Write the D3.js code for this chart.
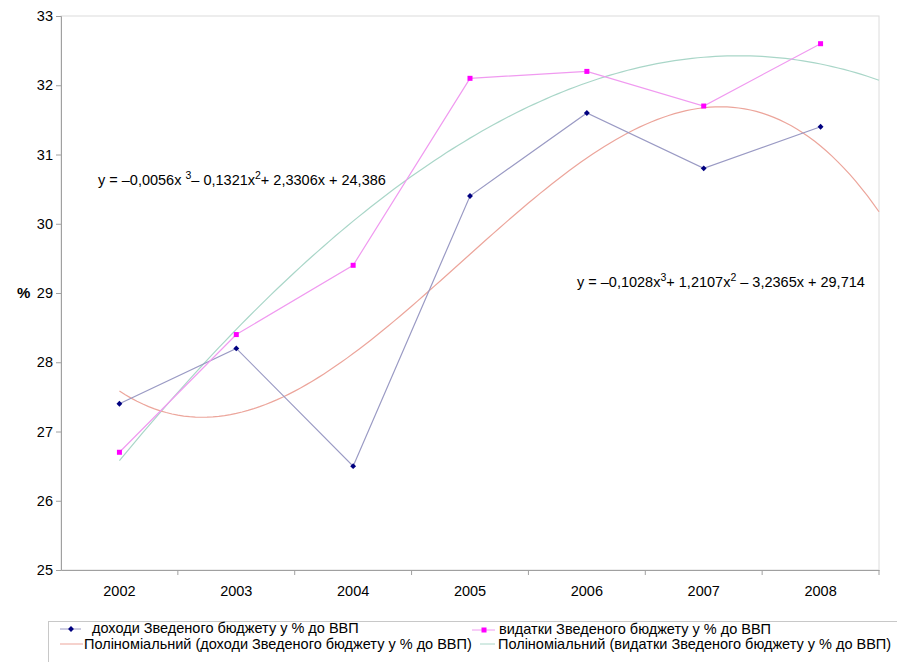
<!DOCTYPE html>
<html>
<head>
<meta charset="utf-8">
<script src="https://cdn.jsdelivr.net/npm/d3@7"></script>
<style>
  body { margin: 0; background: #fff; }
  svg { display: block; font-family: "Liberation Sans", Arial, sans-serif; }
</style>
</head>
<body>
<div id="chart"></div>
<script>
const years = ["2002", "2003", "2004", "2005", "2006", "2007", "2008"];
const revenues = [27.4, 28.2, 26.5, 30.4, 31.6, 30.8, 31.4];
const expenses = [26.7, 28.4, 29.4, 32.1, 32.2, 31.7, 32.6];
// cubic trend coefficients [a3, a2, a1, a0], as printed on the chart
const revenuesTrend = [-0.1028, 1.2107, -3.2365, 29.714];
const expensesTrend = [-0.0056, -0.1321, 2.3306, 24.386];
const yTicks = [25, 26, 27, 28, 29, 30, 31, 32, 33];

const W = 897, H = 662;
const m = { left: 61, right: 18, top: 16, bottom: 92 };

const svg = d3.select("#chart").append("svg")
    .attr("width", W)
    .attr("height", H);

const x = d3.scaleBand().domain(years).range([m.left, W - m.right]);
const y = d3.scaleLinear().domain([25, 33]).range([H - m.bottom, m.top]);
const cx = d => x(d) + x.bandwidth() / 2;

// position for trend index t (1 = first year), continuous
const xt = d3.scaleLinear().domain([1, 2]).range([cx(years[0]), cx(years[1])]);

// plot frame
svg.append("rect")
    .attr("x", m.left).attr("y", m.top)
    .attr("width", W - m.right - m.left)
    .attr("height", H - m.bottom - m.top)
    .attr("fill", "none")
    .attr("stroke", "#dcdcdc");

// y axis
const yAxis = svg.append("g")
    .attr("transform", `translate(${m.left},0)`)
    .call(d3.axisLeft(y).tickValues(yTicks).tickSize(5).tickPadding(3).tickFormat(d3.format("d")));
yAxis.select(".domain").attr("stroke", "#a0a0a0");
yAxis.selectAll(".tick line").attr("stroke", "#a0a0a0");
yAxis.selectAll("text").attr("font-size", 14.5).attr("fill", "#000").attr("font-family", null);

// x axis
const xAxis = svg.append("g")
    .attr("transform", `translate(0,${H - m.bottom})`)
    .call(d3.axisBottom(x).tickSize(0).tickPadding(16));
xAxis.select(".domain").attr("stroke", "#a0a0a0");
xAxis.selectAll("text").attr("font-size", 14.5).attr("fill", "#000").attr("font-family", null);
// tick marks between categories
xAxis.selectAll(".sep")
    .data(years.slice(1).concat(["end"]))
    .join("line")
    .attr("class", "sep")
    .attr("x1", (d, i) => m.left + (i + 1) * x.step())
    .attr("x2", (d, i) => m.left + (i + 1) * x.step())
    .attr("y1", 0).attr("y2", 5)
    .attr("stroke", "#a0a0a0");

svg.append("text")
    .attr("x", 17).attr("y", y(29) + 5)
    .attr("font-size", 15)
    .attr("font-weight", "bold")
    .text("%");

// trend curves
function poly(c, t) {
    return c[0] * t * t * t + c[1] * t * t + c[2] * t + c[3];
}
const ts = d3.range(1, 7.5001, 0.05);
const trendLine = c => d3.line()
    .x(t => xt(t))
    .y(t => y(poly(c, t)))(ts);

svg.append("path")
    .attr("d", trendLine(expensesTrend))
    .attr("fill", "none")
    .attr("stroke", "#a9d6c8")
    .attr("stroke-width", 1.2);

svg.append("path")
    .attr("d", trendLine(revenuesTrend))
    .attr("fill", "none")
    .attr("stroke", "#eca59b")
    .attr("stroke-width", 1.2);

// data series
const seriesLine = d3.line().x((d, i) => cx(years[i])).y(d => y(d));

svg.append("path")
    .attr("d", seriesLine(revenues))
    .attr("fill", "none")
    .attr("stroke", "#9a9ac4")
    .attr("stroke-width", 1.2);

svg.append("path")
    .attr("d", seriesLine(expenses))
    .attr("fill", "none")
    .attr("stroke", "#f09af0")
    .attr("stroke-width", 1.2);

const diamond = d3.symbol().type(d3.symbolDiamond2).size(22);

svg.append("g").selectAll("path")
    .data(revenues)
    .join("path")
    .attr("d", diamond)
    .attr("transform", (d, i) => `translate(${cx(years[i])},${y(d)})`)
    .attr("fill", "#000080");

svg.append("g").selectAll("rect")
    .data(expenses)
    .join("rect")
    .attr("x", (d, i) => cx(years[i]) - 2.5)
    .attr("y", d => y(d) - 2.5)
    .attr("width", 5).attr("height", 5)
    .attr("fill", "#ff00ff");

// trend equations
function equation(xPos, yPos, parts) {
    const t = svg.append("text")
        .attr("x", xPos).attr("y", yPos)
        .attr("font-size", 14.5);
    parts.forEach(p => {
        if (p.sup) {
            t.append("tspan").attr("font-size", 10.5).attr("dy", -6).text(p.sup);
            t.append("tspan").attr("dy", 6).text(p.after);
        } else {
            t.append("tspan").text(p.text);
        }
    });
}
equation(98, 185, [
    { text: "y = \u20130,0056x " }, { sup: "3", after: "\u2013 0,1321x" },
    { sup: "2", after: "+ 2,3306x + 24,386" }
]);
equation(577, 287, [
    { text: "y = \u20130,1028x" }, { sup: "3", after: "+ 1,2107x" },
    { sup: "2", after: " \u2013 3,2365x + 29,714" }
]);

// legend
svg.append("rect")
    .attr("x", 48.5).attr("y", 621.5)
    .attr("width", 880).attr("height", 80)
    .attr("fill", "none")
    .attr("stroke", "#c8c8c8");

const lg = svg.append("g").attr("font-size", 14.5);

lg.append("line").attr("x1", 60).attr("x2", 81).attr("y1", 629).attr("y2", 629)
    .attr("stroke", "#9a9ac4");
lg.append("path").attr("d", diamond).attr("transform", "translate(71,629)").attr("fill", "#000080");
lg.append("text").attr("x", 92).attr("y", 633).text("доходи Зведеного бюджету у % до ВВП");

lg.append("line").attr("x1", 472).attr("x2", 495).attr("y1", 630).attr("y2", 630)
    .attr("stroke", "#f09af0");
lg.append("rect").attr("x", 481.5).attr("y", 627.5).attr("width", 5).attr("height", 5).attr("fill", "#ff00ff");
lg.append("text").attr("x", 499).attr("y", 634).text("видатки Зведеного бюджету у % до ВВП");

lg.append("line").attr("x1", 60).attr("x2", 83).attr("y1", 644).attr("y2", 644)
    .attr("stroke", "#eca59b");
lg.append("text").attr("x", 84).attr("y", 649).text("Поліноміальний (доходи Зведеного бюджету у % до ВВП)");

lg.append("line").attr("x1", 480).attr("x2", 495).attr("y1", 644).attr("y2", 644)
    .attr("stroke", "#a9d6c8");
lg.append("text").attr("x", 498).attr("y", 649).text("Поліноміальний (видатки Зведеного бюджету у % до ВВП)");
</script>
</body>
</html>
